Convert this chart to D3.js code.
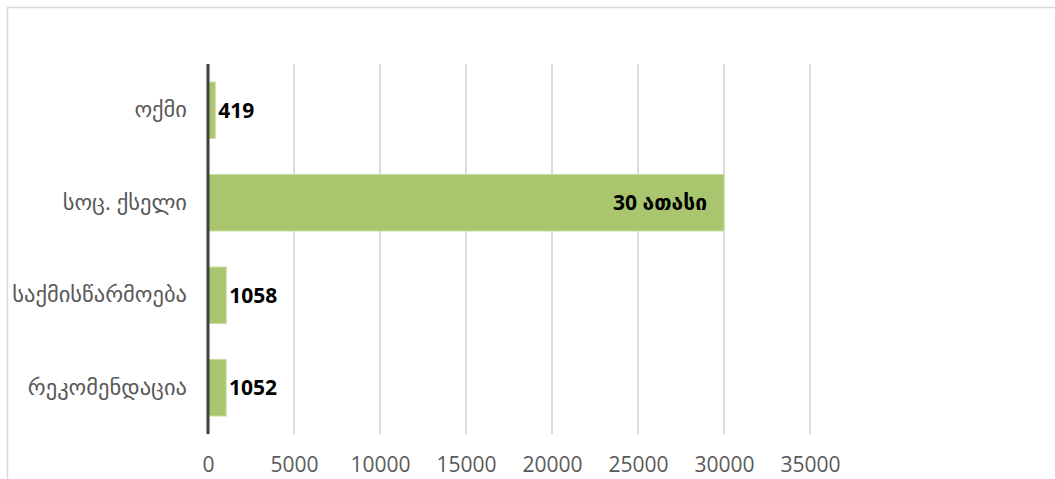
<!DOCTYPE html>
<html><head><meta charset="utf-8">
<script src="https://cdn.jsdelivr.net/npm/d3@7"></script>
<style>body{margin:0;background:#fff}svg{display:block}</style>
</head><body>
<svg id="c" width="1055" height="479"></svg>
<script>
const categories = ["ოქმი", "სოც. ქსელი", "საქმისწარმოება", "რეკომენდაცია"];
const values = [419, 30000, 1058, 1052];
const valueLabels = ["419", "30 ათასი", "1058", "1052"];
const labelInside = [false, true, false, false];
const xTicks = [0, 5000, 10000, 15000, 20000, 25000, 30000, 35000];

const svg = d3.select("#c");
const font = "'Open Sans','DejaVu Sans',sans-serif";

// chart border
svg.append("line").attr("x1",7).attr("x2",1055).attr("y1",7.5).attr("y2",7.5).attr("stroke","#d9d9d9").attr("stroke-width",1.5);
svg.append("line").attr("x1",7.5).attr("x2",7.5).attr("y1",7).attr("y2",479).attr("stroke","#d9d9d9").attr("stroke-width",1.5);

const x = d3.scaleLinear().domain([0, 35000]).range([208, 810]);
const y = d3.scaleBand().domain(categories).range([64, 434]).paddingInner(0.39).paddingOuter(0.195);

// gridlines
svg.append("g").selectAll("line").data(xTicks.slice(1)).join("line")
  .attr("x1", d => x(d)).attr("x2", d => x(d)).attr("y1", 64).attr("y2", 434)
  .attr("stroke", "#d0d0d0").attr("stroke-width", 1.5);

// bars
svg.append("g").selectAll("rect").data(values).join("rect")
  .attr("x", x(0)).attr("y", (d,i) => y(categories[i]))
  .attr("width", d => x(d) - x(0)).attr("height", y.bandwidth())
  .attr("fill", "#a9c66f").attr("stroke", "#c5da9c").attr("stroke-width", 1);

// axis line at 0
svg.append("line").attr("x1", x(0)).attr("x2", x(0)).attr("y1", 64).attr("y2", 434)
  .attr("stroke", "#404040").attr("stroke-width", 3);

// x tick labels
const xa = d3.axisBottom(x).tickValues(xTicks).tickSize(0).tickPadding(0).tickFormat(d3.format("d"));
const gx = svg.append("g").attr("transform", "translate(0,457)").call(xa);
gx.select(".domain").remove();
gx.selectAll("text").attr("font-family", font).attr("font-size", 21).attr("fill", "#595959").attr("dy", "0.71em");

// category labels
const ya = d3.axisLeft(y).tickSize(0).tickPadding(0);
const gy = svg.append("g").attr("transform", "translate(187,0)").call(ya);
gy.select(".domain").remove();
gy.selectAll("text").attr("font-family", font).attr("font-size", 22.5).attr("fill", "#595959");

// value labels
svg.append("g").selectAll("text").data(values).join("text")
  .attr("x", (d,i) => labelInside[i] ? x(d) - 17 : x(d) + 3)
  .attr("y", (d,i) => y(categories[i]) + y.bandwidth()/2)
  .attr("dy", "0.35em")
  .attr("text-anchor", (d,i) => labelInside[i] ? "end" : "start")
  .attr("font-family", font).attr("font-size", 21).attr("font-weight", "bold").attr("fill", "#000")
  .text((d,i) => valueLabels[i]);
</script>
</body></html>
